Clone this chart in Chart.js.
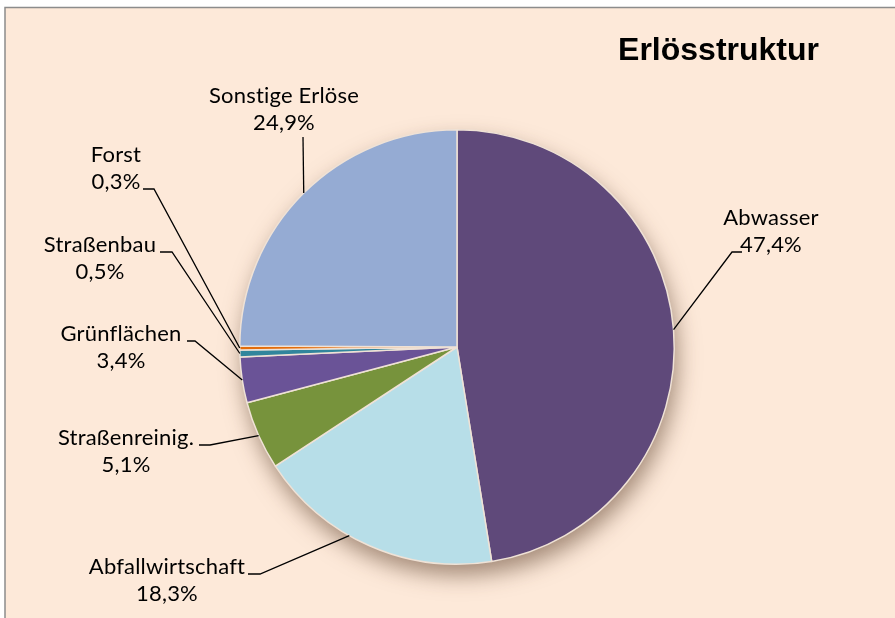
<!DOCTYPE html>
<html>
<head>
<meta charset="utf-8">
<script src="https://cdn.jsdelivr.net/npm/chart.js@4/dist/chart.umd.min.js"></script>
<style>
  html, body { margin: 0; padding: 0; background: #fff; }
  #wrap { width: 895px; height: 618px; position: relative; }
</style>
</head>
<body>
<div id="wrap"><canvas id="myChart" width="895" height="618"></canvas></div>
<script>
// data
const labels = ["Abwasser", "Abfallwirtschaft", "Straßenreinig.", "Grünflächen", "Straßenbau", "Forst", "Sonstige Erlöse"];
const values = [47.4, 18.3, 5.1, 3.4, 0.5, 0.3, 24.9];
const valueText = ["47,4%", "18,3%", "5,1%", "3,4%", "0,5%", "0,3%", "24,9%"];
const colors = ["#5F497A", "#B7DEE8", "#77933C", "#6A5397", "#31859C", "#E46C0A", "#95ABD3"];

// label layout: text centre x, first baseline y, leader elbow (from -> to), point along slice
const labelPos = [
  { x: 771, y: 225, lx0: 742, lx1: 732, ly: 252, frac: 0.5 },
  { x: 167, y: 574, lx0: 248, lx1: 260, ly: 574, frac: 0.59 },
  { x: 126, y: 445, lx0: 199, lx1: 210, ly: 445, frac: 0.5 },
  { x: 121, y: 341, lx0: 187, lx1: 195, ly: 341, frac: 0.5 },
  { x: 100, y: 252, lx0: 160, lx1: 172, ly: 252, frac: 0.5 },
  { x: 116, y: 162, lx0: 143, lx1: 154, ly: 189, frac: 0.5 },
  { x: 284, y: 103, lx0: 303, lx1: 303, ly: 137, frac: 0.5 }
];

const frame = {
  id: "frame",
  beforeDraw(chart) {
    const ctx = chart.ctx;
    ctx.save();
    ctx.fillStyle = "#ffffff";
    ctx.fillRect(0, 0, chart.width, chart.height);
    ctx.fillStyle = "#FDE9D9";
    ctx.fillRect(5, 7, chart.width - 5, chart.height - 7);
    ctx.strokeStyle = "#8c8c8c";
    ctx.lineWidth = 1.5;
    ctx.beginPath();
    ctx.moveTo(5, chart.height);
    ctx.lineTo(5, 7.5);
    ctx.lineTo(chart.width, 7.5);
    ctx.stroke();
    ctx.restore();
  }
};

// soft shadow under the whole pie
const pieShadow = {
  id: "pieShadow",
  beforeDatasetsDraw(chart) {
    const arc = chart.getDatasetMeta(0).data[0];
    if (!arc) return;
    const ctx = chart.ctx;
    ctx.save();
    ctx.shadowColor = "rgba(90,60,40,0.55)";
    ctx.shadowBlur = 22;
    ctx.shadowOffsetX = 3;
    ctx.shadowOffsetY = 11;
    ctx.fillStyle = "#e8d4c4";
    ctx.beginPath();
    ctx.arc(arc.x, arc.y, arc.outerRadius, 0, Math.PI * 2);
    ctx.fill();
    ctx.restore();
  }
};

const sliceLabels = {
  id: "sliceLabels",
  afterDatasetsDraw(chart) {
    const ctx = chart.ctx;
    const meta = chart.getDatasetMeta(0);
    ctx.save();
    ctx.font = "22px Lato, 'Open Sans', sans-serif";
    ctx.letterSpacing = "0.2px";
    ctx.fillStyle = "#000";
    ctx.textAlign = "center";
    ctx.textBaseline = "alphabetic";
    ctx.strokeStyle = "#000";
    ctx.lineWidth = 1.3;
    meta.data.forEach((arc, i) => {
      const p = labelPos[i];
      const ang = arc.startAngle + (arc.endAngle - arc.startAngle) * p.frac;
      const ax = arc.x + Math.cos(ang) * arc.outerRadius;
      const ay = arc.y + Math.sin(ang) * arc.outerRadius;
      ctx.fillText(labels[i], p.x, p.y);
      ctx.fillText(valueText[i], p.x, p.y + 27);
      ctx.beginPath();
      ctx.moveTo(p.lx0, p.ly);
      ctx.lineTo(p.lx1, p.ly);
      ctx.lineTo(ax, ay);
      ctx.stroke();
    });
    ctx.restore();
  }
};

const title = {
  id: "titleText",
  afterDraw(chart) {
    const ctx = chart.ctx;
    ctx.save();
    ctx.font = "bold 32px 'Liberation Sans', Arial, sans-serif";
    ctx.fillStyle = "#000";
    ctx.textAlign = "right";
    ctx.textBaseline = "alphabetic";
    ctx.fillText("Erlösstruktur", 819, 60);
    ctx.restore();
  }
};

new Chart(document.getElementById("myChart").getContext("2d"), {
  type: "pie",
  data: {
    labels: labels,
    datasets: [{
      data: values,
      backgroundColor: colors,
      borderColor: "#efe2d6",
      borderWidth: 1.5
    }]
  },
  options: {
    responsive: false,
    animation: false,
    layout: { padding: { left: 238, right: 219, top: 129, bottom: 53 } },
    plugins: {
      legend: { display: false },
      tooltip: { enabled: false }
    }
  },
  plugins: [frame, pieShadow, sliceLabels, title]
});
</script>
</body>
</html>
